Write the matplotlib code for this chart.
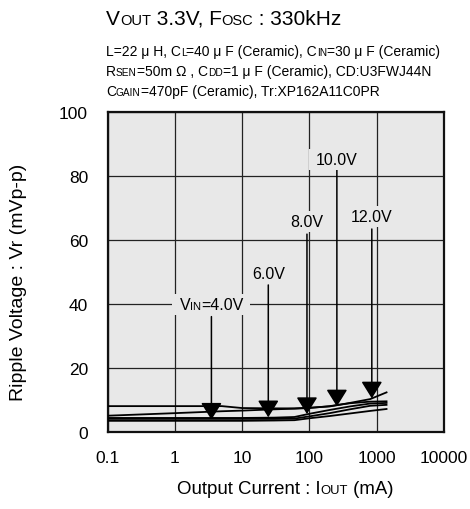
import numpy as np
import matplotlib
matplotlib.use('Agg')
import matplotlib.pyplot as plt
from matplotlib.transforms import IdentityTransform
from matplotlib.patches import Rectangle

plt.rcParams['font.family'] = ['Liberation Sans', 'DejaVu Sans']

# ---------------- data ----------------
current_mA = [0.1, 1, 5, 10, 30, 60, 100, 200, 400, 800, 1400]
ripple_a = [8.0, 8.0, 8.0, 7.4, 7.3, 7.3, 7.5, 7.9, 9.0, 10.2, 12.3]
ripple_b = [5.0, 5.8, 6.4, 6.6, 7.0, 7.2, 7.4, 8.0, 8.9, 9.4, 9.5]
ripple_c = [4.3, 4.3, 4.3, 4.3, 4.4, 4.6, 5.6, 6.8, 7.9, 8.8, 9.0]
ripple_d = [4.0, 4.0, 4.0, 4.0, 4.0, 4.1, 4.8, 5.8, 7.0, 8.1, 8.4]
ripple_e = [3.4, 3.4, 3.4, 3.4, 3.5, 3.6, 4.2, 4.9, 5.7, 6.5, 7.1]

arrow_labels = [[('V', 11.5), ('IN', 8), ('=4.0V', 11.5)],
                [('6.0V', 11.5)], [('8.0V', 11.5)], [('10.0V', 11.5)], [('12.0V', 11.5)]]
arrow_current = [3.5, 24.5, 92, 256, 846]
arrow_tip = [3.75, 4.5, 5.5, 7.9, 10.4]
arrow_start = [36.0, 45.9, 61.8, 82.0, 63.4]
label_y = [40.0, 49.6, 66.0, 85.3, 67.6]

x_ticks = [0.1, 1, 10, 100, 1000, 10000]
x_ticklabels = ['0.1', '1', '10', '100', '1000', '10000']
y_ticks = [0, 20, 40, 60, 80, 100]

BG = '#e8e8e8'

fig = plt.figure(figsize=(4.7, 5.1), dpi=100)
renderer = fig.canvas.get_renderer()
H = 510

ax = fig.add_axes([107.5 / 470, (H - 432.7) / H, (444 - 107.5) / 470, (432.7 - 113) / H])
ax.set_facecolor(BG)
ax.set_xscale('log')
ax.set_xlim(0.1, 10000)
ax.set_ylim(0, 100)
ax.set_xticks(x_ticks)
ax.set_xticklabels(x_ticklabels)
ax.xaxis.set_minor_locator(matplotlib.ticker.NullLocator())
ax.set_yticks(y_ticks)
ax.tick_params(axis='both', length=0, labelsize=12.5)
ax.tick_params(axis='x', pad=13)
ax.tick_params(axis='y', pad=14)
ax.grid(True, color='#222222', lw=0.9)
ax.set_axisbelow(True)
for sp in ax.spines.values():
    sp.set_linewidth(1.6)
    sp.set_color('#111111')

for ys in [ripple_a, ripple_b, ripple_c, ripple_d, ripple_e]:
    ax.plot(current_mA, ys, color='black', lw=1.3, zorder=3)

for x, tip, st in zip(arrow_current, arrow_tip, arrow_start):
    ax.annotate('', xy=(x, tip), xytext=(x, st),
                arrowprops=dict(arrowstyle='-|>,head_length=1.05,head_width=0.65',
                                mutation_scale=10, color='black', lw=1.1,
                                shrinkA=0, shrinkB=0), zorder=4)


def rich(x, y, pieces, ha='left', bg=None, padx=7, pady=3):
    texts = []
    for s, size in pieces:
        t = fig.text(0, y, s, fontsize=size, transform=IdentityTransform(),
                     va='baseline', ha='left', zorder=5, color='black')
        texts.append(t)
    widths = [t.get_window_extent(renderer).width for t in texts]
    total = sum(widths)
    x0 = x - total / 2 if ha == 'center' else x
    cx = x0
    for t, w in zip(texts, widths):
        t.set_x(cx)
        cx += w
    if bg is not None:
        exts = [t.get_window_extent(renderer) for t in texts]
        y0 = min(e.y0 for e in exts)
        y1 = max(e.y1 for e in exts)
        r = Rectangle((x0 - padx, y0 - pady), total + 2 * padx, (y1 - y0) + 2 * pady,
                      transform=IdentityTransform(), facecolor=bg, edgecolor='none', zorder=4.5)
        fig.patches.append(r)
    return texts


# arrow labels
for pieces, x, ly in zip(arrow_labels, arrow_current, label_y):
    px, py = ax.transData.transform((x, ly))
    rich(px, py - 5, pieces, ha='center', bg=BG)

# title and conditions
rich(106, H - 25, [('V', 15), ('OUT', 10.5), (' 3.3V, F', 15), ('OSC', 10.5), (' : 330kHz', 15)])
rich(106, H - 56, [('L=22 μ H, C', 10), ('L', 7.3), ('=40 μ F (Ceramic), C', 10), ('IN', 7.3),
                   ('=30 μ F (Ceramic)', 10)])
rich(106, H - 76, [('R', 10), ('SEN', 7.3), ('=50m Ω , C', 10), ('DD', 7.3),
                   ('=1 μ F (Ceramic), CD:U3FWJ44N', 10)])
rich(106, H - 95.7, [('C', 10), ('GAIN', 7.3), ('=470pF (Ceramic), Tr:XP162A11C0PR', 10)])

# axis labels
rich(285, H - 494, [('Output Current : I', 13.4), ('OUT', 9.4), (' (mA)', 13.4)], ha='center')
fig.text(19, H - 282, 'Ripple Voltage : Vr (mVp-p)', rotation=90, fontsize=14,
         transform=IdentityTransform(), ha='center', va='center')

fig.savefig('out.png', dpi=100, facecolor='white')
